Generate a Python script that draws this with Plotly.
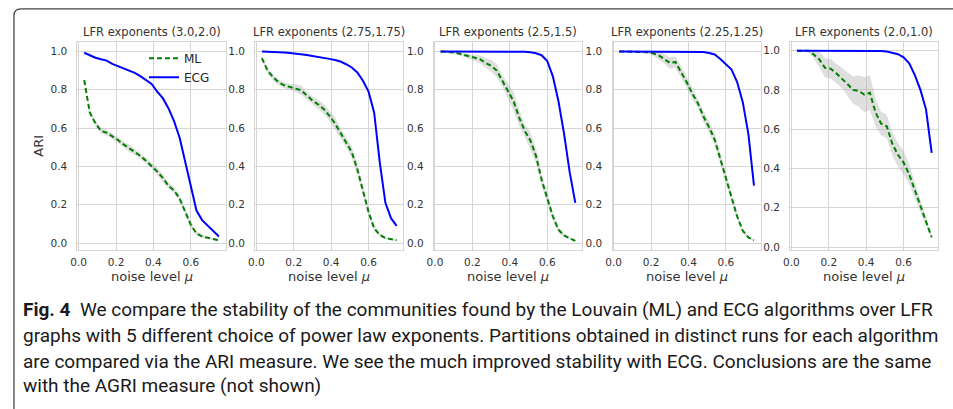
import plotly.graph_objects as go

W, H = 953, 409

mu = [0.03, 0.06, 0.09, 0.12, 0.15, 0.18, 0.21, 0.24, 0.27, 0.30, 0.33, 0.36, 0.39,
      0.42, 0.45, 0.48, 0.51, 0.54, 0.57, 0.60, 0.63, 0.66, 0.69, 0.72, 0.75]

titles = ["LFR exponents (3.0,2.0)", "LFR exponents (2.75,1.75)", "LFR exponents (2.5,1.5)",
          "LFR exponents (2.25,1.25)", "LFR exponents (2.0,1.0)"]

ecg_1 = [0.993, 0.979, 0.967, 0.959, 0.952, 0.935, 0.923, 0.912, 0.902, 0.888, 0.871, 0.85, 0.83,
         0.79, 0.756, 0.704, 0.636, 0.55, 0.42, 0.283, 0.17, 0.12, 0.09, 0.06, 0.035]
ecg_2 = [1.0, 0.999, 0.998, 0.997, 0.994, 0.991, 0.989, 0.985, 0.981, 0.976, 0.972, 0.967, 0.961,
         0.955, 0.947, 0.933, 0.916, 0.89, 0.847, 0.79, 0.68, 0.42, 0.21, 0.13, 0.09]
ecg_3 = [1.0, 1.0, 1.0, 1.0, 1.0, 1.0, 1.0, 1.0, 1.0, 1.0, 1.0, 1.0, 0.999,
         0.999, 0.999, 0.998, 0.995, 0.99, 0.98, 0.95, 0.87, 0.74, 0.57, 0.37, 0.21]
ecg_4 = [1.0, 1.0, 1.0, 1.0, 1.0, 1.0, 1.0, 1.0, 1.0, 1.0, 1.0, 1.0, 1.0,
         1.0, 0.999, 0.997, 0.992, 0.984, 0.96, 0.935, 0.905, 0.84, 0.735, 0.57, 0.30]
ecg_5 = [1.0, 1.0, 1.0, 1.0, 1.0, 1.0, 1.0, 1.0, 1.0, 1.0, 1.0, 1.0, 1.0,
         1.0, 0.999, 0.998, 0.996, 0.99, 0.982, 0.966, 0.935, 0.875, 0.80, 0.70, 0.48]

ml_1 = [0.85, 0.68, 0.625, 0.585, 0.576, 0.558, 0.538, 0.515, 0.495, 0.476, 0.455, 0.43, 0.404,
        0.373, 0.34, 0.30, 0.275, 0.232, 0.163, 0.095, 0.05, 0.035, 0.028, 0.022, 0.015]
ml_2 = [0.965, 0.90, 0.865, 0.838, 0.823, 0.815, 0.808, 0.797, 0.77, 0.744, 0.724, 0.70, 0.665,
        0.625, 0.575, 0.525, 0.475, 0.385, 0.27, 0.163, 0.077, 0.043, 0.026, 0.02, 0.015]
ml_3 = [1.0, 0.998, 0.995, 0.99, 0.983, 0.973, 0.965, 0.96, 0.94, 0.925, 0.90, 0.845, 0.795,
        0.74, 0.655, 0.585, 0.535, 0.455, 0.33, 0.23, 0.14, 0.07, 0.04, 0.025, 0.012]
ml_4 = [1.0, 1.0, 1.0, 0.999, 0.997, 0.996, 0.99, 0.98, 0.962, 0.94, 0.945, 0.895, 0.84,
        0.78, 0.73, 0.66, 0.605, 0.54, 0.44, 0.33, 0.23, 0.14, 0.065, 0.03, 0.015]
ml_5 = [1.0, 1.0, 1.0, 0.98, 0.955, 0.912, 0.908, 0.885, 0.86, 0.83, 0.80, 0.795, 0.776,
        0.785, 0.685, 0.628, 0.615, 0.525, 0.47, 0.43, 0.37, 0.29, 0.21, 0.13, 0.05]

ml_spread_1 = [0.0, 0.01, 0.015, 0.015, 0.015, 0.015, 0.015, 0.015, 0.02, 0.015, 0.015, 0.015, 0.015,
               0.02, 0.02, 0.015, 0.015, 0.015, 0.015, 0.015, 0.01, 0.01, 0.005, 0.005, 0.005]
ml_spread_2 = [0.01, 0.015, 0.015, 0.015, 0.015, 0.015, 0.02, 0.025, 0.02, 0.02, 0.025, 0.025, 0.025,
               0.03, 0.025, 0.025, 0.03, 0.03, 0.025, 0.02, 0.015, 0.01, 0.005, 0.005, 0.005]
ml_spread_3 = [0.0, 0.003, 0.005, 0.008, 0.01, 0.012, 0.015, 0.02, 0.025, 0.03, 0.035, 0.03, 0.04,
               0.05, 0.04, 0.035, 0.045, 0.04, 0.03, 0.025, 0.02, 0.015, 0.01, 0.005, 0.005]
ml_spread_4 = [0.0, 0.0, 0.0, 0.003, 0.005, 0.008, 0.012, 0.02, 0.025, 0.03, 0.03, 0.03, 0.03,
               0.03, 0.025, 0.03, 0.03, 0.03, 0.03, 0.025, 0.02, 0.015, 0.01, 0.005, 0.005]
ml_spread_5 = [0.0, 0.0, 0.005, 0.02, 0.04, 0.05, 0.05, 0.05, 0.05, 0.06, 0.07, 0.08, 0.09,
               0.09, 0.07, 0.06, 0.06, 0.06, 0.06, 0.06, 0.05, 0.04, 0.03, 0.02, 0.01]

ecg_all = [ecg_1, ecg_2, ecg_3, ecg_4, ecg_5]
ml_all = [ml_1, ml_2, ml_3, ml_4, ml_5]
spread_all = [ml_spread_1, ml_spread_2, ml_spread_3, ml_spread_4, ml_spread_5]

x_ticks = [0.0, 0.2, 0.4, 0.6]
y_ticks = [0.0, 0.2, 0.4, 0.6, 0.8, 1.0]
y_ranges = [[-0.035, 1.049], [-0.035, 1.049], [-0.035, 1.049], [-0.035, 1.049], [-0.014, 1.044]]

caption_lines = [
    "<b>Fig. 4</b>  We compare the stability of the communities found by the Louvain (ML) and ECG algorithms over LFR",
    "graphs with 5 different choice of power law exponents. Partitions obtained in distinct runs for each algorithm",
    "are compared via the ARI measure. We see the much improved stability with ECG. Conclusions are the same",
    "with the AGRI measure (not shown)",
]

# layout geometry (pixels)
panel_left = [71, 250, 430, 610, 789]
panel_w = 149.3
plot_top, plot_bottom = 42.3, 251.7

GREEN = "#008000"
BLUE = "#0000ff"
GRID = "#d5d5d5"
TXT = "#333333"

fig = go.Figure()
layout = {}
annotations = []

for i in range(5):
    n = "" if i == 0 else str(i + 1)
    xa, ya = "x" + n, "y" + n
    upper = [m + s for m, s in zip(ml_all[i], spread_all[i])]
    lower = [m - s for m, s in zip(ml_all[i], spread_all[i])]
    fig.add_trace(go.Scatter(x=mu, y=upper, xaxis=xa, yaxis=ya, mode="lines",
                             line=dict(width=0, color="rgba(0,0,0,0)"), showlegend=False,
                             hoverinfo="skip"))
    fig.add_trace(go.Scatter(x=mu, y=lower, xaxis=xa, yaxis=ya, mode="lines",
                             line=dict(width=0, color="rgba(0,0,0,0)"), fill="tonexty",
                             fillcolor="rgba(170,170,170,0.38)", showlegend=False,
                             hoverinfo="skip"))
    fig.add_trace(go.Scatter(x=mu, y=ml_all[i], xaxis=xa, yaxis=ya, mode="lines", name="ML",
                             line=dict(color=GREEN, width=2, dash="5px,3px"),
                             showlegend=(i == 0)))
    fig.add_trace(go.Scatter(x=mu, y=ecg_all[i], xaxis=xa, yaxis=ya, mode="lines", name="ECG",
                             line=dict(color=BLUE, width=2), showlegend=(i == 0)))

    x0 = panel_left[i] / W
    x1 = (panel_left[i] + panel_w) / W
    axis_common = dict(showgrid=True, gridcolor=GRID, gridwidth=1, showline=True, mirror=True,
                       linecolor=GRID, linewidth=1.3, zeroline=False, ticks="",
                       tickfont=dict(family="DejaVu Sans", size=10.5, color=TXT))
    layout["xaxis" + n] = dict(domain=[x0, x1], range=[-0.006, 0.786], tickvals=x_ticks,
                               ticktext=["%.1f" % v for v in x_ticks], anchor=ya,
                               ticklabelstandoff=2, **axis_common)
    layout["yaxis" + n] = dict(domain=[1 - plot_bottom / H, 1 - plot_top / H], range=y_ranges[i],
                               tickvals=y_ticks, ticktext=["%.1f" % v for v in y_ticks], anchor=xa,
                               ticklabelstandoff=7, **axis_common)
    cx = (x0 + x1) / 2
    annotations.append(dict(text=titles[i], x=cx, y=1 - 32.3 / H, xref="paper", yref="paper",
                            xanchor="center", yanchor="middle", showarrow=False,
                            font=dict(family="DejaVu Sans", size=11.5, color=TXT)))
    annotations.append(dict(text="noise level <i>μ</i>", x=cx, y=1 - 279 / H, xref="paper",
                            yref="paper", xanchor="center", yanchor="middle", showarrow=False,
                            font=dict(family="DejaVu Sans", size=13, color=TXT)))

annotations.append(dict(text="ARI", x=32 / W, y=1 - 147 / H, xref="paper", yref="paper",
                        xanchor="center", yanchor="middle", showarrow=False, textangle=-90,
                        font=dict(family="DejaVu Sans", size=13, color=TXT)))

cap_y = [311.7, 337.7, 363.7, 388.7]
for line, yy in zip(caption_lines, cap_y):
    annotations.append(dict(text=line, x=14 / W, y=1 - yy / H, xref="paper", yref="paper",
                            xanchor="left", yanchor="middle", showarrow=False,
                            font=dict(family="Roboto", size=19.0, color="#1a1a1a")))

# frame (rounded top-left corner, open to the right and bottom)
fx, fy = 7 / W, 1 - 9 / H
rx, ry = 7 / W, 7 / H
frame_path = (f"M 1.01,{fy} L {fx + rx},{fy} Q {fx},{fy} {fx},{fy - ry} L {fx},-0.01")

layout.update(
    width=W, height=H,
    margin=dict(l=0, r=0, t=0, b=0, pad=0),
    paper_bgcolor="white", plot_bgcolor="white",
    showlegend=True,
    legend=dict(x=138 / W, y=1 - 44 / H, xanchor="left", yanchor="top",
                bgcolor="rgba(255,255,255,0)", borderwidth=0, traceorder="normal",
                font=dict(family="DejaVu Sans", size=12, color="#262626"),
                tracegroupgap=0, itemwidth=30),
    annotations=annotations,
    shapes=[dict(type="path", path=frame_path, xref="paper", yref="paper",
                 line=dict(color="#444444", width=1.3))],
)
fig.update_layout(**layout)
fig.write_html("out.html", config={"displayModeBar": False},
               post_script="document.body.style.margin='0';document.body.style.overflow='hidden';")
